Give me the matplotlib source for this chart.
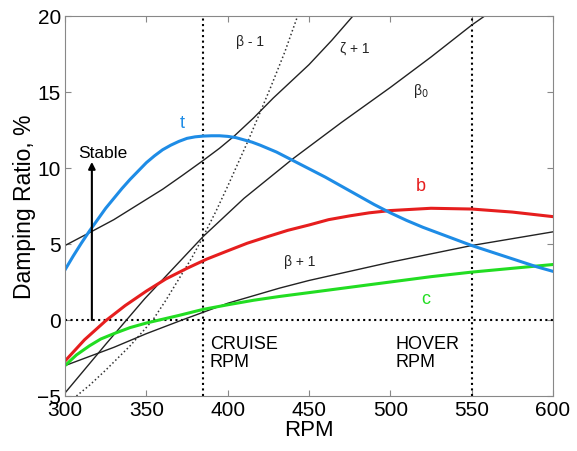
import matplotlib
matplotlib.use("Agg")
from matplotlib import pyplot as plt

plt.rcParams['font.family'] = ['Liberation Sans', 'DejaVu Sans']

# t mode (blue)
rpm_t = [300, 305, 310, 315, 320, 325, 330, 335, 340, 345, 350, 355, 360, 365, 370, 375, 380, 385,
         390, 395, 400, 405, 410, 415, 420, 430, 440, 450, 460, 470, 480, 490, 500, 510, 520, 530,
         540, 550, 560, 570, 580, 590, 600]
damp_t = [3.3, 4.2, 5.05, 5.85, 6.6, 7.35, 8.0, 8.65, 9.25, 9.8, 10.35, 10.8, 11.2, 11.5, 11.75, 11.95,
          12.05, 12.1, 12.12, 12.12, 12.08, 12.0, 11.85, 11.7, 11.5, 11.05, 10.5, 9.95, 9.4, 8.8, 8.2,
          7.6, 7.05, 6.55, 6.1, 5.7, 5.3, 4.9, 4.55, 4.2, 3.85, 3.5, 3.2]

# b mode (red)
rpm_b = [300, 312, 325, 337, 350, 362, 375, 387, 400, 412, 425, 437, 450, 462, 475, 487, 500,
         525, 550, 575, 600]
damp_b = [-2.7, -1.3, -0.05, 0.95, 1.9, 2.7, 3.4, 4.0, 4.55, 5.05, 5.5, 5.9, 6.25, 6.6, 6.85, 7.05, 7.2,
          7.35, 7.3, 7.1, 6.8]

# c mode (green)
rpm_c = [300, 307, 315, 322, 330, 340, 350, 360, 370, 385, 400, 416, 432, 450, 475, 500, 525, 550, 575, 600]
damp_c = [-3.0, -2.3, -1.7, -1.25, -0.9, -0.5, -0.2, 0.05, 0.3, 0.7, 1.0, 1.3, 1.55, 1.8, 2.15, 2.5,
          2.85, 3.15, 3.4, 3.65]

# black modes
rpm_bp1 = [300, 315, 330, 350, 372, 400, 432, 450, 475, 500, 525, 550, 575, 600]
damp_bp1 = [-3.0, -2.4, -1.8, -0.9, 0.0, 1.1, 2.1, 2.6, 3.2, 3.8, 4.35, 4.9, 5.35, 5.8]

rpm_zp1 = [300, 316, 330, 345, 360, 372, 385, 395, 404, 416, 428, 440, 450, 464, 477]
damp_zp1 = [4.9, 5.8, 6.6, 7.6, 8.6, 9.5, 10.5, 11.3, 12.1, 13.3, 14.6, 15.8, 16.8, 18.4, 20.0]

rpm_b0 = [300, 325, 349, 385, 410, 440, 470, 500, 525, 550, 558]
damp_b0 = [-4.8, -1.6, 1.4, 5.5, 8.0, 10.6, 13.0, 15.3, 17.3, 19.4, 20.0]

rpm_bm1 = [307, 315, 325, 340, 354, 362, 370, 378, 385, 393, 400, 413, 426, 435, 443]
damp_bm1 = [-5.0, -4.3, -3.3, -1.7, 0.0, 1.3, 2.7, 4.1, 5.5, 7.2, 8.8, 11.9, 15.2, 17.6, 20.0]

cruise_rpm = 385
hover_rpm = 550

fig = plt.figure(figsize=(5.77, 4.52), dpi=100)
ax = fig.add_axes([0.1127, 0.1217, 0.8457, 0.8407])

# reference lines
ax.axvline(cruise_rpm, color='black', linestyle=':', linewidth=1.5)
ax.axvline(hover_rpm, color='black', linestyle=':', linewidth=1.5)
ax.axhline(0, color='black', linestyle=':', linewidth=1.5)

ax.plot(rpm_bm1, damp_bm1, color='#333333', linestyle=':', linewidth=1.1)
ax.plot(rpm_zp1, damp_zp1, color='#222222', linewidth=1.0)
ax.plot(rpm_b0, damp_b0, color='#222222', linewidth=1.0)
ax.plot(rpm_bp1, damp_bp1, color='#222222', linewidth=1.0)

ax.plot(rpm_c, damp_c, color='#22dd22', linewidth=2.2)
ax.plot(rpm_b, damp_b, color='#e61e1e', linewidth=2.2)
ax.plot(rpm_t, damp_t, color='#1e8ce6', linewidth=2.2)

# labels
ax.text(372, 13.0, 't', color='#1e8ce6', fontsize=13, ha='center', va='center')
ax.text(519, 8.85, 'b', color='#e61e1e', fontsize=13, ha='center', va='center')
ax.text(522, 1.4, 'c', color='#22dd22', fontsize=13, ha='center', va='center')
ax.text(414, 18.35, 'β - 1', fontsize=10, ha='center', va='center', color='#222222')
ax.text(478, 17.9, 'ζ + 1', fontsize=10, ha='center', va='center', color='#222222')
ax.text(519, 15.1, 'β$_0$', fontsize=10, ha='center', va='center', color='#222222')
ax.text(444, 3.9, 'β + 1', fontsize=10, ha='center', va='center', color='#222222')

ax.annotate('', xy=(316.5, 10.4), xytext=(316.5, 0),
            arrowprops=dict(arrowstyle='-|>', color='black', lw=1.5,
                            mutation_scale=10, shrinkA=0, shrinkB=0))
ax.text(323, 11.0, 'Stable', fontsize=12.5, ha='center', va='center')

ax.text(389, -1.0, 'CRUISE\nRPM', fontsize=13, ha='left', va='top', linespacing=1.1)
ax.text(503, -1.0, 'HOVER\nRPM', fontsize=13, ha='left', va='top', linespacing=1.1)

ax.set_xlim(300, 600)
ax.set_ylim(-5, 20)
ax.set_xticks([300, 350, 400, 450, 500, 550, 600])
ax.set_yticks([-5, 0, 5, 10, 15, 20])
ax.tick_params(direction='in', top=True, right=True, length=4, color='#888888',
               labelsize=15, pad=3)
for s in ax.spines.values():
    s.set_color('#888888')
ax.set_xlabel('RPM', fontsize=16, labelpad=0)
ax.set_ylabel('Damping Ratio, %', fontsize=16.5, labelpad=1)

fig.savefig('out.png', dpi=100)
